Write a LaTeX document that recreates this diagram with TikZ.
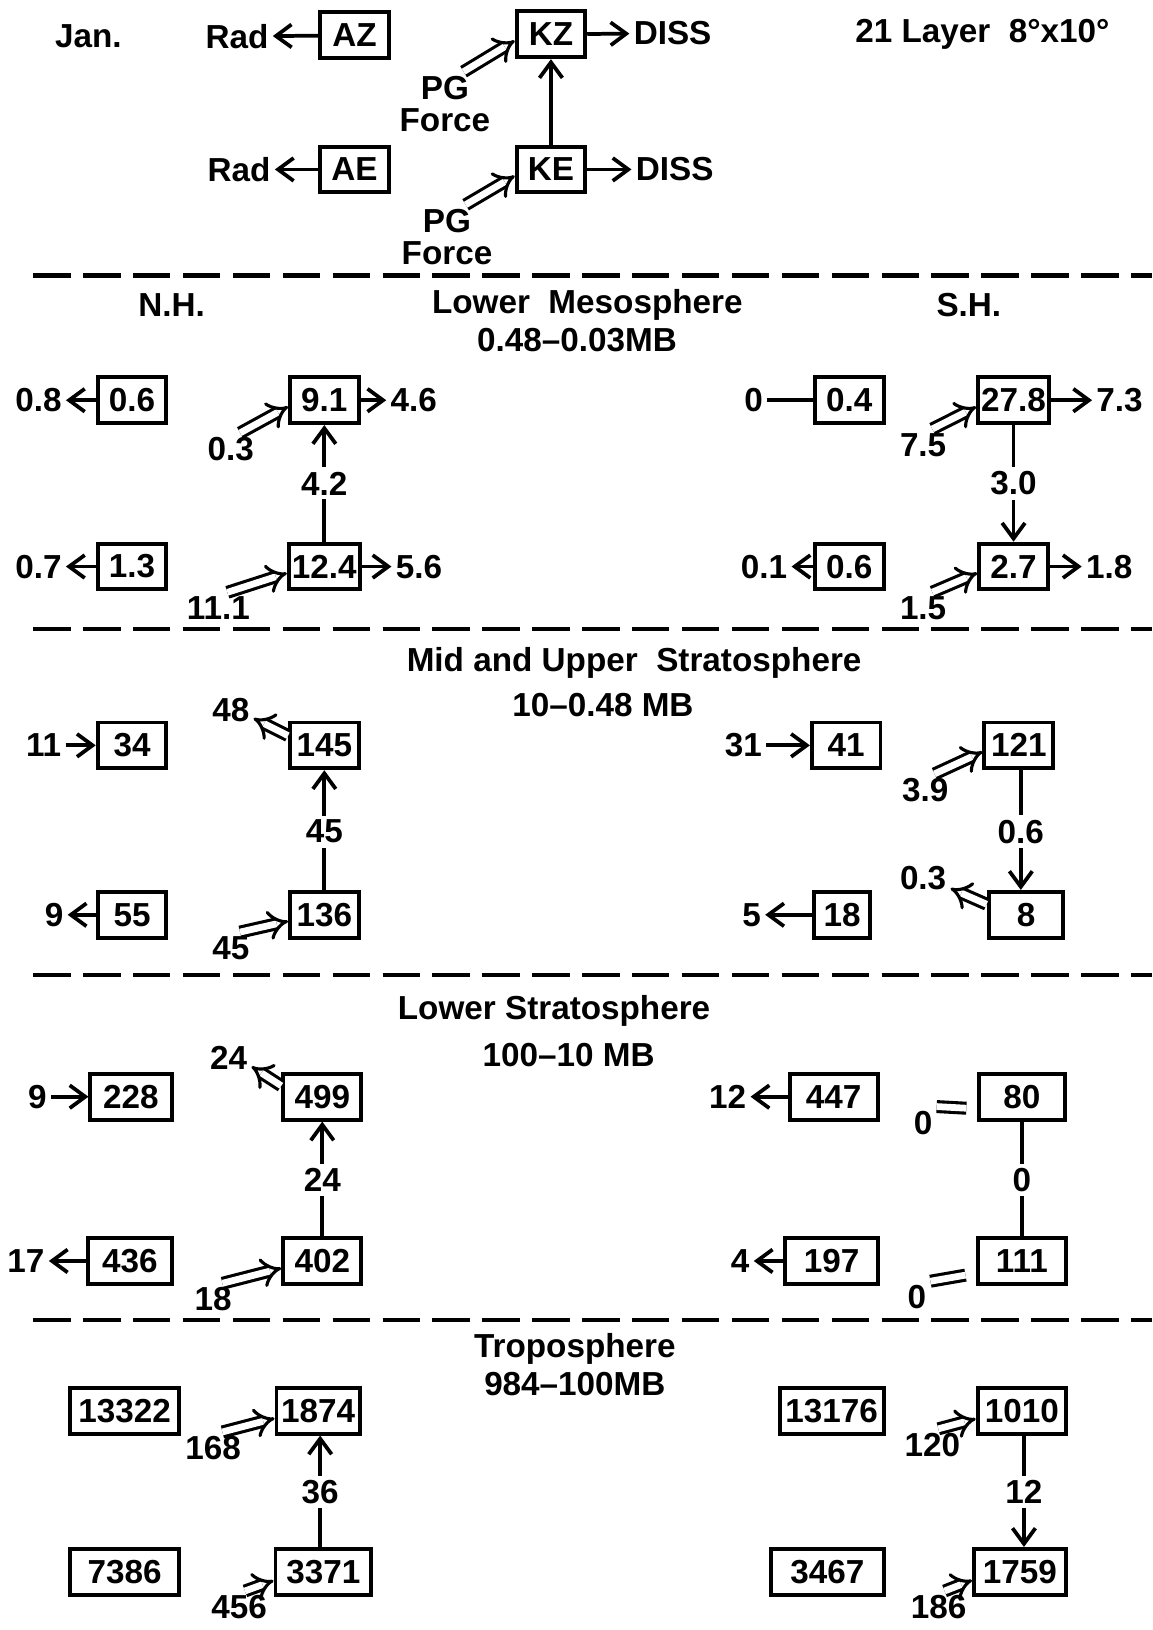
\documentclass[tikz,border=0pt]{standalone}
\usepackage{fontspec}
\setmainfont{Liberation Sans}
\usetikzlibrary{arrows.meta}

\tikzset{
  box/.style={draw, line width=3.8pt, minimum width=66pt, minimum height=44pt, inner sep=3pt},
  lbl/.style={inner sep=4pt},
  flow/.style={line width=3.6pt, -{Straight Barb[length=15pt,width=22pt]}},
  link/.style={line width=3.6pt},
  pg/.style={double, line width=3pt, double distance=6.5pt, -{Implies[scale=1.3]}},
  pgline/.style={double, line width=3pt, double distance=6.5pt},
  sep/.style={line width=4.2pt, dash pattern=on 36pt off 12pt},
}

\begin{document}
\begin{tikzpicture}[x=1pt, y=-1pt, font=\fontsize{32}{31}\selectfont\bfseries]
    \useasboundingbox (0,0) rectangle (1109,1568);

    % Key
    \node[lbl] (jan) at (85,35) {Jan.};
    \node[lbl] (title) at (945,33) {21 Layer\ \ 8°x10°};
    \node[lbl] (radz) at (228,35) {Rad};
    \node[box] (az) at (341,34) {AZ};
    \node[box] (kz) at (530,33) {KZ};
    \node[lbl] (dissz) at (647,32) {DISS};
    \node[lbl, align=center] (pgz) at (428,100) {PG\\Force};
    \node[lbl] (rade) at (230,163) {Rad};
    \node[box] (ae) at (341,163) {AE};
    \node[box] (ke) at (530,163) {KE};
    \node[lbl] (disse) at (649,163) {DISS};
    \node[lbl, align=center] (pge) at (430,228) {PG\\Force};
    \draw[flow] (az) -- (radz);
    \draw[flow] (ae) -- (rade);
    \draw[flow] (kz) -- (dissz);
    \draw[flow] (ke) -- (disse);
    \draw[flow] (ke) -- (kz);
    \draw[pg] (pgz.60) -- (kz.190);
    \draw[pg] (pge.60) -- (ke.190);

    \draw[sep] (32,265) -- (1108,265);

    % Lower mesosphere
    \node[lbl] (nh) at (165,293) {N.H.};
    \node[lbl] (sh) at (932,293) {S.H.};
    \node[lbl] (mhead) at (565,293) {Lower\ \ Mesosphere};
    \node[lbl] (mrange) at (555,327) {0.48–0.03MB};

    \node[lbl] (mnazr) at (37,385) {0.8};
    \node[box] (mnaz) at (127,385) {0.6};
    \node[box] (mnkz) at (312,385) {9.1};
    \node[lbl] (mnkzd) at (398,385) {4.6};
    \node[lbl] (mnkzg) at (222,432) {0.3};
    \node[lbl] (mnc) at (312,465) {4.2};
    \node[lbl] (mnaer) at (37,545) {0.7};
    \node[box] (mnae) at (127,545) {1.3};
    \node[box] (mnke) at (312,545) {12.4};
    \node[lbl] (mnked) at (403,545) {5.6};
    \node[lbl] (mnkeg) at (210,585) {11.1};
    \draw[flow] (mnaz) -- (mnazr);
    \draw[flow] (mnae) -- (mnaer);
    \draw[flow] (mnkz) -- (mnkzd);
    \draw[flow] (mnke) -- (mnked);
    \draw[link] (mnke) -- (mnc);
    \draw[flow] (mnc) -- (mnkz);
    \draw[pg] (mnkzg.60) -- (mnkz.190);
    \draw[pg] (mnkeg.60) -- (mnke.190);

    \node[lbl] (msazr) at (725,385) {0};
    \node[box] (msaz) at (817,385) {0.4};
    \node[box] (mskz) at (975,385) {27.8};
    \node[lbl] (mskzd) at (1077,385) {7.3};
    \node[lbl] (mskzg) at (888,428) {7.5};
    \node[lbl] (msc) at (975,465) {3.0};
    \node[lbl] (msaer) at (735,545) {0.1};
    \node[box] (msae) at (817,545) {0.6};
    \node[box] (mske) at (975,545) {2.7};
    \node[lbl] (msked) at (1067,545) {1.8};
    \node[lbl] (mskeg) at (888,585) {1.5};
    \draw[link] (msaz) -- (msazr);
    \draw[flow] (msae) -- (msaer);
    \draw[flow] (mskz) -- (mskzd);
    \draw[flow] (mske) -- (msked);
    \draw[link] (mskz) -- (msc);
    \draw[flow] (msc) -- (mske);
    \draw[pg] (mskzg.60) -- (mskz.190);
    \draw[pg] (mskeg.60) -- (mske.190);

    \draw[sep] (32,605) -- (1108,605);

    % Mid and upper stratosphere
    \node[lbl] (uhead) at (610,638) {Mid and Upper\ \ Stratosphere};
    \node[lbl] (urange) at (580,678) {10–0.48 MB};

    \node[lbl] (unazr) at (42,717) {11};
    \node[box] (unaz) at (127,717) {34};
    \node[box] (unkz) at (312,717) {145};
    \node[lbl] (unkzg) at (222,683) {48};
    \node[lbl] (unc) at (312,800) {45};
    \node[lbl] (unaer) at (52,880) {9};
    \node[box] (unae) at (127,880) {55};
    \node[box] (unke) at (312,880) {136};
    \node[lbl] (unkeg) at (222,912) {45};
    \draw[flow] (unazr) -- (unaz);
    \draw[flow] (unae) -- (unaer);
    \draw[link] (unke) -- (unc);
    \draw[flow] (unc) -- (unkz);
    \draw[pg] (unkz.165) -- (unkzg.-20);
    \draw[pg] (unkeg.60) -- (unke.190);

    \node[lbl] (usazr) at (715,717) {31};
    \node[box] (usaz) at (814,717) {41};
    \node[box] (uskz) at (980,717) {121};
    \node[lbl] (uskzg) at (890,760) {3.9};
    \node[lbl] (usc) at (982,800) {0.6};
    \node[lbl] (usaer) at (723,880) {5};
    \node[box, minimum width=54pt] (usae) at (810,880) {18};
    \node[box, minimum width=72pt] (uske) at (987,880) {8};
    \node[lbl] (uskeg) at (888,845) {0.3};
    \draw[flow] (usazr) -- (usaz);
    \draw[flow] (usae) -- (usaer);
    \draw[link] (uskz.south -| usc) -- (usc);
    \draw[flow] (usc) -- (usc |- uske.north);
    \draw[pg] (uskzg.60) -- (uskz.190);
    \draw[pg] (uske.165) -- (uskeg.-20);

    \draw[sep] (32,938) -- (1108,938);

    % Lower stratosphere
    \node[lbl] (lhead) at (533,972) {Lower Stratosphere};
    \node[lbl] (lrange) at (547,1015) {100–10 MB};

    \node[lbl] (lnazr) at (36,1055) {9};
    \node[box, minimum width=78pt] (lnaz) at (126,1055) {228};
    \node[box, minimum width=75pt] (lnkz) at (310,1055) {499};
    \node[lbl] (lnkzg) at (220,1018) {24};
    \node[lbl] (lnc) at (310,1135) {24};
    \node[lbl] (lnaer) at (25,1213) {17};
    \node[box, minimum width=80pt] (lnae) at (125,1213) {436};
    \node[box, minimum width=75pt] (lnke) at (310,1213) {402};
    \node[lbl] (lnkeg) at (205,1250) {18};
    \draw[flow] (lnazr) -- (lnaz);
    \draw[flow] (lnae) -- (lnaer);
    \draw[link] (lnke) -- (lnc);
    \draw[flow] (lnc) -- (lnkz);
    \draw[pg] (lnkz.165) -- (lnkzg.-20);
    \draw[pg] (lnkeg.60) -- (lnke.190);

    \node[lbl] (lsazr) at (700,1055) {12};
    \node[box, minimum width=85pt] (lsaz) at (802,1055) {447};
    \node[box, minimum width=83pt] (lskz) at (983,1055) {80};
    \node[lbl] (lskzg) at (888,1080) {0};
    \node[lbl] (lsc) at (983,1135) {0};
    \node[lbl] (lsaer) at (712,1213) {4};
    \node[box, minimum width=90pt] (lsae) at (800,1213) {197};
    \node[box, minimum width=85pt] (lske) at (983,1213) {111};
    \node[lbl] (lskeg) at (882,1248) {0};
    \draw[flow] (lsaz) -- (lsazr);
    \draw[flow] (lsae) -- (lsaer);
    \draw[link] (lskz) -- (lsc);
    \draw[link] (lsc) -- (lske);
    \draw[pgline, shorten >=10pt] (lskzg.50) -- (lskz.195);
    \draw[pgline, shorten >=10pt] (lskeg.50) -- (lske.195);

    \draw[sep] (32,1270) -- (1108,1270);

    % Troposphere
    \node[lbl] (thead) at (553,1298) {Troposphere};
    \node[lbl] (trange) at (553,1331) {984–100MB};

    \node[box, minimum width=105pt] (tnaz) at (120,1357) {13322};
    \node[box, minimum width=80pt] (tnkz) at (306,1357) {1874};
    \node[lbl] (tnkzg) at (205,1393) {168};
    \node[lbl] (tnc) at (308,1435) {36};
    \node[box, minimum width=105pt] (tnae) at (120,1512) {7386};
    \node[box, minimum width=92pt] (tnke) at (311,1512) {3371};
    \node[lbl] (tnkeg) at (230,1546) {456};
    \draw[link] (tnke.north -| tnc) -- (tnc);
    \draw[flow] (tnc) -- (tnc |- tnkz.south);
    \draw[pg] (tnkzg.60) -- (tnkz.190);
    \draw[pg] (tnkeg.70) -- (tnke.190);

    \node[box, minimum width=100pt] (tsaz) at (800,1357) {13176};
    \node[box, minimum width=85pt] (tskz) at (983,1357) {1010};
    \node[lbl] (tskzg) at (897,1390) {120};
    \node[lbl] (tsc) at (985,1435) {12};
    \node[box, minimum width=108pt] (tsae) at (796,1512) {3467};
    \node[box, minimum width=88pt] (tske) at (981,1512) {1759};
    \node[lbl] (tskeg) at (903,1546) {186};
    \draw[link] (tskz.south -| tsc) -- (tsc);
    \draw[flow] (tsc) -- (tsc |- tske.north);
    \draw[pg] (tskzg.70) -- (tskz.190);
    \draw[pg] (tskeg.70) -- (tske.190);
\end{tikzpicture}
\end{document}
